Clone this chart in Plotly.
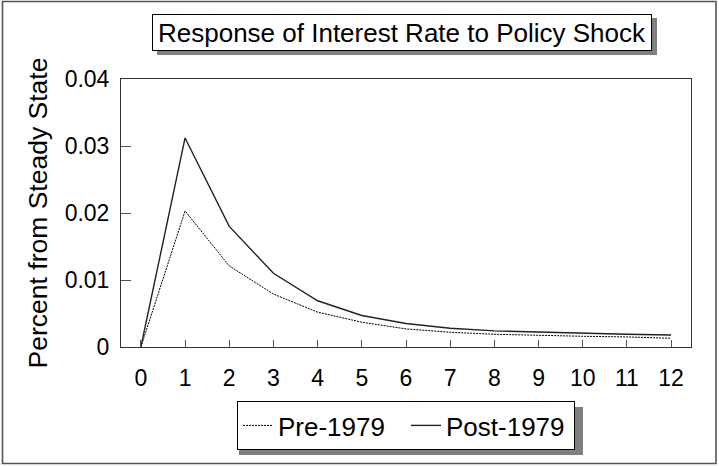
import plotly.graph_objects as go

# ---- data ----
periods = list(range(0, 13))
pre_1979 = [0.0, 0.0203, 0.0121, 0.0079, 0.0052, 0.0037, 0.0027, 0.0022, 0.0019, 0.0017, 0.0016, 0.0015, 0.0013]
post_1979 = [0.0, 0.0312, 0.0180, 0.0110, 0.0069, 0.0047, 0.0035, 0.0028, 0.0024, 0.0022, 0.0020, 0.0019, 0.0018]
y_ticks = [0, 0.01, 0.02, 0.03, 0.04]
y_tick_labels = ["0", "0.01", "0.02", "0.03", "0.04"]
x_tick_labels = [str(p) for p in periods]
title_text = "Response of Interest Rate to Policy Shock"
y_title = "Percent from Steady State"

# ---- layout geometry (pixels) ----
W, H = 719, 466
L, R, T, B = 121, 691, 79, 347   # plot area edges
pw, ph = R - L, B - T

def px(x):
    return (x - L) / pw

def py(y):
    return (B - y) / ph

FONT = "Liberation Sans, Arial, sans-serif"

fig = go.Figure()
fig.add_trace(go.Scatter(x=periods, y=pre_1979, mode="lines", name="Pre-1979",
                         line=dict(color="black", width=1, dash="2px,1px")))
fig.add_trace(go.Scatter(x=periods, y=post_1979, mode="lines", name="Post-1979",
                         line=dict(color="#222222", width=1.4)))

shapes = []
# outer frame
shapes.append(dict(type="rect", xref="paper", yref="paper",
                   x0=px(2.5), x1=px(716), y0=py(463.5), y1=py(1.5),
                   line=dict(color="#555555", width=1.6), fillcolor="rgba(0,0,0,0)", layer="below"))
# title shadow
shapes.append(dict(type="rect", xref="paper", yref="paper",
                   x0=px(157), x1=px(657), y0=py(55), y1=py(18),
                   line=dict(width=0), fillcolor="#808080", layer="above"))
# legend shadow
shapes.append(dict(type="rect", xref="paper", yref="paper",
                   x0=px(239), x1=px(583), y0=py(455), y1=py(407),
                   line=dict(width=0), fillcolor="#808080", layer="above"))

fig.add_annotation(text=title_text, xref="paper", yref="paper",
                   x=px(402), y=py(32.5), xanchor="center", yanchor="middle",
                   showarrow=False, width=498, height=35,
                   bordercolor="black", borderwidth=1, borderpad=0, bgcolor="white",
                   font=dict(family=FONT, size=26, color="black"))

fig.update_layout(
    width=W, height=H,
    margin=dict(l=L, r=W - R, t=T, b=H - B, autoexpand=False),
    paper_bgcolor="white", plot_bgcolor="white",
    font=dict(family=FONT, color="black"),
    shapes=shapes,
    showlegend=True,
    legend=dict(orientation="h", x=px(406), y=py(425.5), xanchor="center", yanchor="middle",
                bgcolor="white", bordercolor="black", borderwidth=1,
                font=dict(family=FONT, size=26, color="black"),
                itemwidth=30, entrywidth=123, entrywidthmode="pixels", traceorder="normal"),
    xaxis=dict(range=[-0.45, 12.45], tickmode="array", tickvals=periods, ticktext=x_tick_labels,
               ticks="inside", ticklen=7, tickcolor="#555555", tickwidth=1,
               showline=True, linecolor="#333333", linewidth=1, mirror=True,
               showgrid=False, zeroline=False, ticklabelstandoff=10,
               tickfont=dict(family=FONT, size=23, color="black"), automargin=False),
    yaxis=dict(range=[0, 0.04], tickmode="array", tickvals=y_ticks, ticktext=y_tick_labels,
               ticks="inside", ticklen=10, tickcolor="#555555", tickwidth=1,
               showline=True, linecolor="#333333", linewidth=1, mirror=True,
               showgrid=False, zeroline=False, ticklabelstandoff=6,
               tickfont=dict(family=FONT, size=23, color="black"), automargin=False,
               title=dict(text=y_title, standoff=9,
                          font=dict(family=FONT, size=26.5, color="black"))),
)

fig.write_html("out.html", config={"displayModeBar": False},
               post_script="document.body.style.margin='0';")
